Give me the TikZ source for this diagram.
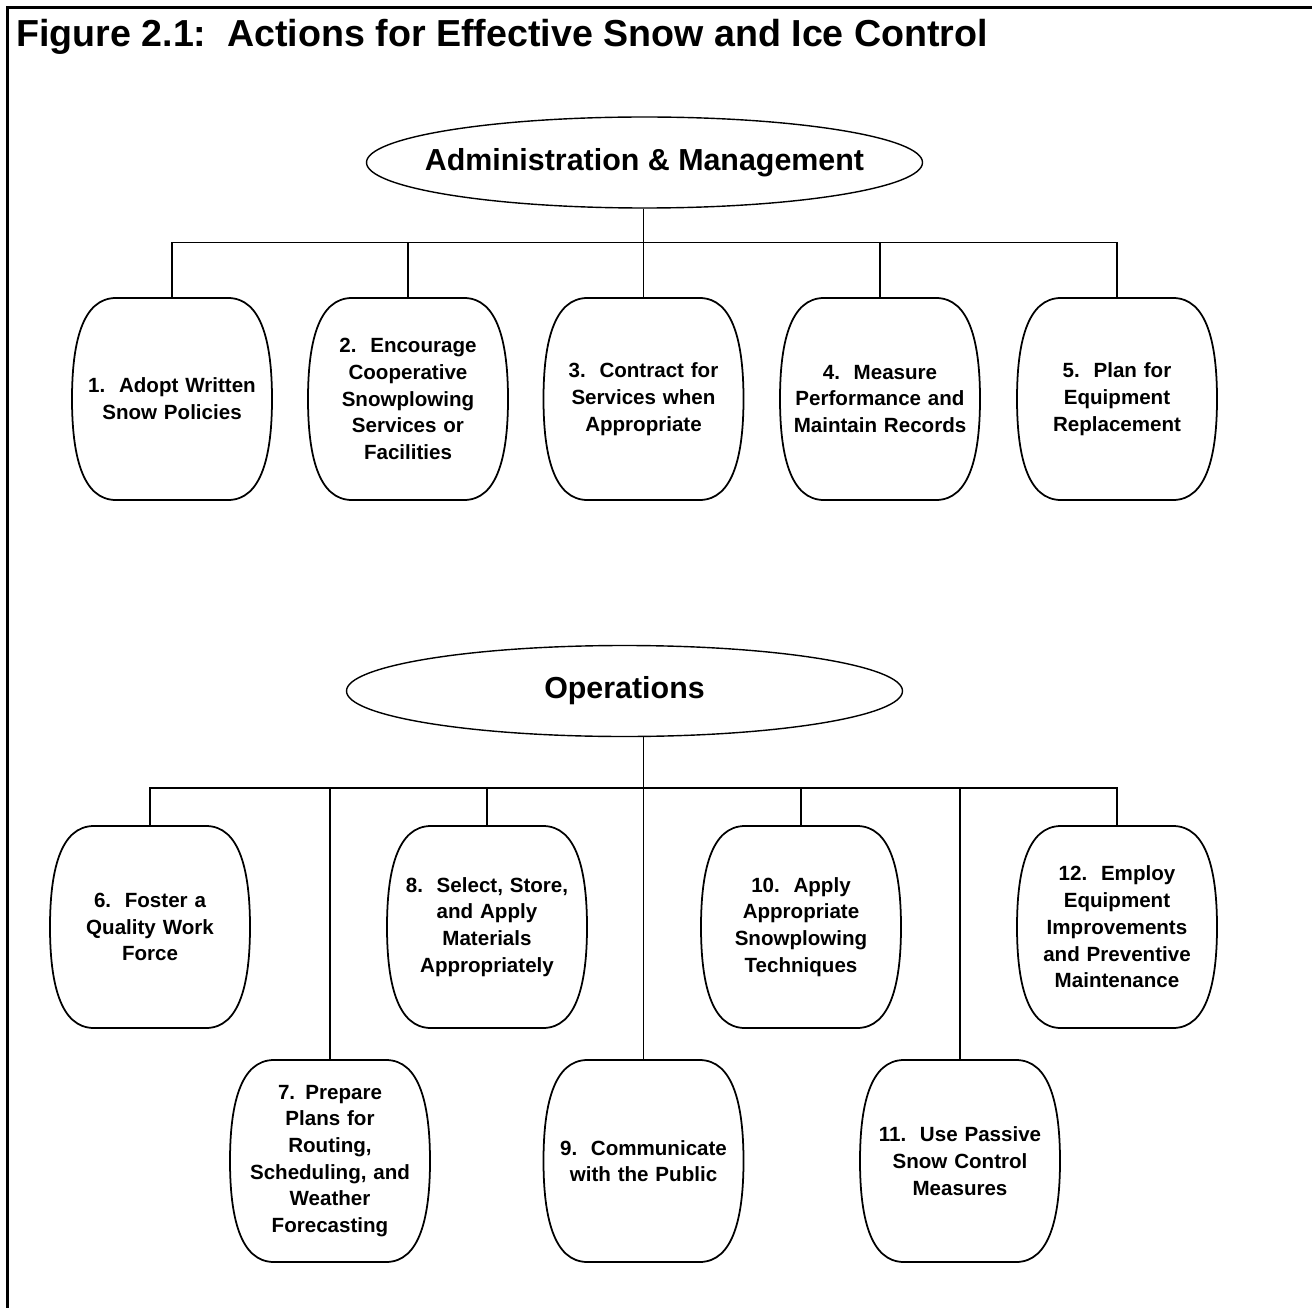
\documentclass[tikz,border=0pt]{standalone}
\usepackage{fontspec}
\setmainfont{Liberation Sans}
\usepackage{tikz}
\usetikzlibrary{positioning, shapes.geometric, calc}

\begin{document}
\begin{tikzpicture}[
    action/.style={minimum width=4cm, minimum height=4.04cm, text width=3.7cm, align=center, inner sep=0pt, font=\bfseries\fontsize{11.7}{15.2}\selectfont},
    group/.style={ellipse, draw, line width=0.8pt, minimum width=11.12cm, minimum height=1.82cm, inner xsep=-0.5cm, inner ysep=0pt, font=\bfseries\fontsize{17.3}{20}\selectfont},
    link/.style={line width=0.9pt},
    barrel/.style={line width=1pt}
  ]
  \useasboundingbox (0,0) rectangle (26.24,-26.16);
  \draw[line width=2pt] (0.15,-26.16) -- (0.15,-0.15) -- (26.24,-0.15);
  \node[anchor=base west, inner sep=0pt, font=\bfseries\fontsize{21.4}{25}\selectfont] (title) at (0.32,-0.94) {Figure 2.1:~~Actions for Effective Snow and Ice Control};

  % group headings
  \node[group] (adm) at (12.89,-3.25) {Administration \& Management};
  \node[group] (ops) at (12.49,-13.82) {Operations};

  % administration & management
  \node[action] (b1) at (3.44,-7.98) {1.~~Adopt Written\\Snow Policies};
  \node[action] (b2) at (8.16,-7.98) {2.~~Encourage\\Cooperative\\Snowplowing\\Services or\\Facilities};
  \node[action] (b3) at (12.87,-7.98) {3.~~Contract for\\Services when\\Appropriate};
  \node[action] (b4) at (17.6,-7.98) {4.~~Measure\\Performance and\\Maintain Records};
  \node[action] (b5) at (22.34,-7.98) {5.~~Plan for\\Equipment\\Replacement};

  % operations
  \node[action] (b6) at (3.0,-18.54) {6.~~Foster a\\Quality Work\\Force};
  \node[action] (b7) at (6.6,-23.22) {7. Prepare\\Plans for\\Routing,\\Scheduling, and\\Weather\\Forecasting};
  \node[action] (b8) at (9.74,-18.54) {8.~~Select, Store,\\and Apply\\Materials\\Appropriately};
  \node[action] (b9) at (12.87,-23.22) {9.~~Communicate\\with the Public};
  \node[action] (b10) at (16.02,-18.54) {10.~~Apply\\Appropriate\\Snowplowing\\Techniques};
  \node[action] (b11) at (19.2,-23.22) {11.~~Use Passive\\Snow Control\\Measures};
  \node[action] (b12) at (22.34,-18.54) {12.~~Employ\\Equipment\\Improvements\\and Preventive\\Maintenance};

  \foreach \i in {1,...,12}
    \draw[barrel, shift={(b\i.center)}] (-1.12,2.02) -- (1.12,2.02) .. controls (1.8,2.02) and (2,1.11) .. (2,0) .. controls (2,-1.11) and (1.8,-2.02) .. (1.12,-2.02) -- (-1.12,-2.02) .. controls (-1.8,-2.02) and (-2,-1.11) .. (-2,0) .. controls (-2,1.11) and (-1.8,2.02) .. cycle;

  \foreach \b in {b1,b2,b3,b4,b5}
    \draw[link] (adm.south -| b3.north) -- ++(0,-0.68) -| (\b.north);
  \foreach \b in {b6,b7,b8,b9,b10,b11,b12}
    \draw[link] (ops.south -| b9.north) -- ++(0,-1.02) -| (\b.north);
\end{tikzpicture}
\end{document}
